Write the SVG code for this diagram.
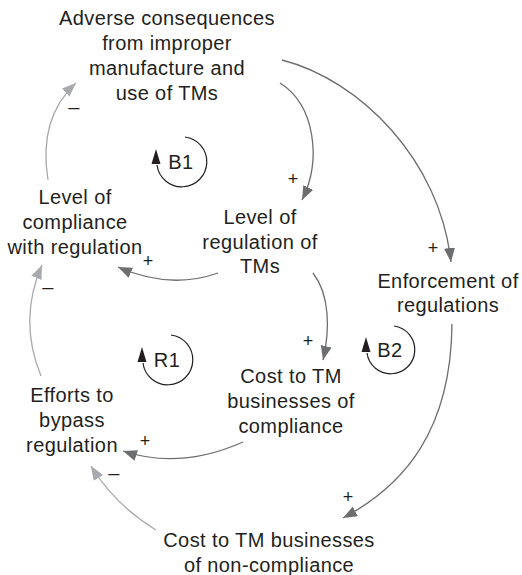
<svg xmlns="http://www.w3.org/2000/svg" width="522" height="575" viewBox="0 0 522 575">
<defs>
<style>
.t{font-family:"Liberation Sans",Arial,sans-serif;font-size:20px;letter-spacing:0.4px;fill:#231f20;text-anchor:middle}
.s{font-family:"Liberation Sans",Arial,sans-serif;font-size:18px;fill:#231f20;text-anchor:middle}
.pos{fill:none;stroke:#6d6e70;stroke-width:1.3}
.neg{fill:none;stroke:#a7a9ac;stroke-width:1.3}
.loop{fill:none;stroke:#231f20;stroke-width:1.2}
</style>
<marker id="ad" markerUnits="userSpaceOnUse" markerWidth="15" markerHeight="12" refX="14" refY="5.5" orient="auto" viewBox="0 0 15 12">
<path d="M0,0 L14,5.5 L0,11 z" fill="#6d6e70"/>
</marker>
<marker id="al" markerUnits="userSpaceOnUse" markerWidth="15" markerHeight="12" refX="14" refY="5.5" orient="auto" viewBox="0 0 15 12">
<path d="M0,0 L14,5.5 L0,11 z" fill="#a7a9ac"/>
</marker>
</defs>
<rect width="522" height="575" fill="#fff"/>
<g id="connectors">
<path class="pos" d="M280,83 C315,105 322,160 302,200" marker-end="url(#ad)"/>
<path class="pos" d="M282,60 C360,80 440,160 451,262" marker-end="url(#ad)"/>
<path class="pos" d="M218,273 Q170,290 118,267" marker-end="url(#ad)"/>
<path class="pos" d="M313,273 C330,295 330,330 323,360" marker-end="url(#ad)"/>
<path class="pos" d="M452,324 C451,430 405,485 343,518" marker-end="url(#ad)"/>
<path class="pos" d="M243,442 Q180,470 123,451" marker-end="url(#ad)"/>
<path class="neg" d="M156,530 Q115,505 91,466" marker-end="url(#al)"/>
<path class="neg" d="M41,376 Q18,320 42,265" marker-end="url(#al)"/>
<path class="neg" d="M48,180 Q38,118 76,83" marker-end="url(#al)"/>
<text class="s" x="293" y="184.5">+</text>
<text class="s" x="433" y="253.5">+</text>
<text class="s" x="148" y="266.5">+</text>
<text class="s" x="308" y="346.5">+</text>
<text class="s" x="348" y="502.5">+</text>
<text class="s" x="145" y="446.5">+</text>
<text class="t" x="114" y="480">–</text>
<text class="t" x="48" y="294">–</text>
<text class="t" x="74" y="114">–</text>
</g>
<g id="adverse">
<text class="t" x="167" y="25">Adverse consequences</text>
<text class="t" x="167" y="50">from improper</text>
<text class="t" x="167" y="75">manufacture and</text>
<text class="t" x="167" y="100">use of TMs</text>
</g>
<g id="compliance">
<text class="t" x="75" y="204">Level of</text>
<text class="t" x="75" y="229">compliance</text>
<text class="t" x="75" y="254">with regulation</text>
</g>
<g id="regulation">
<text class="t" x="260" y="224">Level of</text>
<text class="t" x="260" y="249">regulation of</text>
<text class="t" x="260" y="273">TMs</text>
</g>
<g id="enforcement">
<text class="t" x="448" y="288">Enforcement of</text>
<text class="t" x="448" y="312">regulations</text>
</g>
<g id="costcompliance">
<text class="t" x="291" y="383">Cost to TM</text>
<text class="t" x="291" y="408">businesses of</text>
<text class="t" x="291" y="433">compliance</text>
</g>
<g id="efforts">
<text class="t" x="72" y="402">Efforts to</text>
<text class="t" x="72" y="427">bypass</text>
<text class="t" x="72" y="452">regulation</text>
</g>
<g id="noncompliance">
<text class="t" x="269" y="547">Cost to TM businesses</text>
<text class="t" x="269" y="572">of non-compliance</text>
</g>
<g id="loopB1">
<path class="loop" d="M185,137 A25,25 0 1 1 157,165"/>
<path d="M156,149 L160.5,164 L151.5,164 z" fill="#231f20"/>
<text class="t" x="181" y="169">B1</text>
</g>
<g id="loopR1">
<path class="loop" d="M171,335 A25,25 0 1 1 143,363"/>
<path d="M142,347 L146.5,362 L137.5,362 z" fill="#231f20"/>
<text class="t" x="167" y="367">R1</text>
</g>
<g id="loopB2">
<path class="loop" d="M394,326 A24,24 0 1 1 367,353"/>
<path d="M366,337 L370.5,352 L361.5,352 z" fill="#231f20"/>
<text class="t" x="390" y="357">B2</text>
</g>
</svg>
